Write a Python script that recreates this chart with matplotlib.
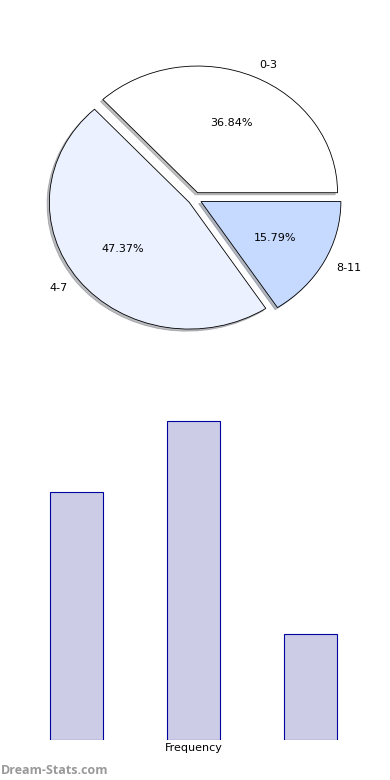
import matplotlib.pyplot as plt

labels = ['0-3', '4-7', '8-11']
freq = [7, 9, 3]
pie_colors = ['#ffffff', '#ebf1ff', '#c6d9ff']

fig = plt.figure(figsize=(3.9, 7.8), dpi=100)

ax1 = fig.add_axes([0.051, 0.5425, 0.897, 0.406])
ax1.pie(freq, labels=labels, colors=pie_colors, autopct='%1.2f%%',
        startangle=0, explode=(0.05, 0.05, 0.05),
        shadow={'ox': -0.012, 'oy': -0.012, 'shade': 0.5},
        wedgeprops={'edgecolor': 'black', 'linewidth': 0.6},
        textprops={'fontsize': 8})
ax1.set_aspect('auto')
ax1.set_xlim(-1.25, 1.25)
ax1.set_ylim(-1.25, 1.25)

ax2 = fig.add_axes([0.092, 0.0513, 0.808, 0.4295])
ax2.bar(range(len(freq)), freq, width=0.45, color='#ccccE6', edgecolor='#0000a0', linewidth=0.8)
ax2.set_xlabel('Frequency', fontsize=8, labelpad=2)
ax2.set_xticks([])
ax2.set_yticks([])
for s in ax2.spines.values():
    s.set_visible(False)

fig.text(0.001, 0.008, 'Dream-Stats.com', fontsize=9, color='#999999',
         fontweight='bold', family='Open Sans')

fig.savefig('out.png', dpi=100)
